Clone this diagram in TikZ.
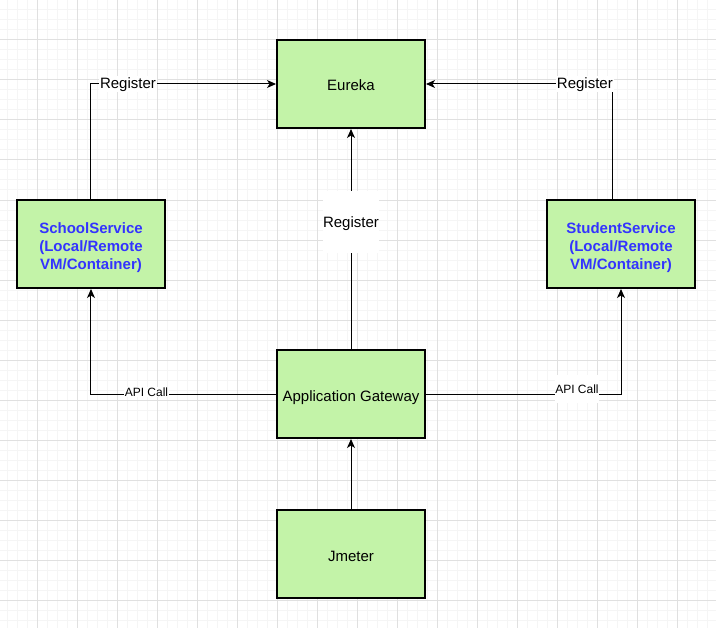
\documentclass[tikz,border=0pt]{standalone}
\usepackage{fontspec}
\setmainfont{Liberation Sans}
\usetikzlibrary{positioning,arrows.meta}
\definecolor{boxgreen}{RGB}{195,243,168}
\definecolor{svcblue}{RGB}{51,51,255}
\definecolor{gridmajor}{RGB}{224,224,224}
\definecolor{gridminor}{RGB}{245,245,245}

\begin{document}
\begin{tikzpicture}[
                    x=1bp, y=-1bp,
                    every node/.style={font=\fontsize{15bp}{18bp}\selectfont},
                    box/.style={
                        rectangle,
                        draw,
                        line width=2bp,
                        fill=boxgreen,
                        minimum width=148bp,
                        minimum height=88bp,
                        align=center,
                        text height=14bp,
                        text depth=0bp
                    },
                    svc/.style={box, text=svcblue, text height=54bp, text depth=3bp, font=\fontsize{15bp}{18bp}\selectfont\bfseries},
                    link/.style={draw, line width=1bp, -{Stealth[length=9bp,width=8bp,inset=2.5bp]}},
                    lbl/.style={fill=white, inner sep=1bp, text height=12bp, text depth=2bp},
                    calllbl/.style={fill=white, inner sep=0.5bp, font=\fontsize{12bp}{14bp}\selectfont}
                ]

                    % Page and grid
                    \fill[white] (0,0) rectangle (716,628);
                    \useasboundingbox (0,0) rectangle (716,628);
                    \foreach \gx in {7,17,...,707} \draw[gridminor, line width=1bp] (\gx,0) -- (\gx,628);
                    \foreach \gy in {0,10,...,620} \draw[gridminor, line width=1bp] (0,\gy) -- (716,\gy);
                    \foreach \gx in {37,77,...,677} \draw[gridmajor, line width=1bp] (\gx,0) -- (\gx,628);
                    \foreach \gy in {40,80,...,600} \draw[gridmajor, line width=1bp] (0,\gy) -- (716,\gy);

                    \node[box] (eureka) at (351,84) {Eureka};
                    \node[box] (gateway) [below=220bp of eureka] {Application Gateway};
                    \node[box] (jmeter) [below=70bp of gateway] {Jmeter};
                    \node[svc] (school) [above left=60bp and 110bp of gateway] {SchoolService\\(Local/Remote\\VM/Container)};
                    \node[svc] (student) [above right=60bp and 120bp of gateway] {StudentService\\(Local/Remote\\VM/Container)};

                    % Edges
                    \draw[link] (school.north) |- node[lbl, pos=0.6] {Register} (eureka.west);
                    \draw[link] ([xshift=-9bp]student.north) |- node[lbl, pos=0.573] {Register} (eureka.east);
                    \draw[link] (gateway.north) -- node[lbl, pos=0.577, inner xsep=0pt, minimum height=62bp] {Register} (eureka.south);
                    \draw[link] (gateway.west) -| node[calllbl, pos=0.35, yshift=2bp] {API Call} (school.south);
                    \draw[link] (gateway.east) -| node[calllbl, pos=0.387, yshift=5bp, minimum height=28bp] {API Call} (student.south);
                    \draw[link] (jmeter) -- (gateway);
                \end{tikzpicture}
\end{document}
